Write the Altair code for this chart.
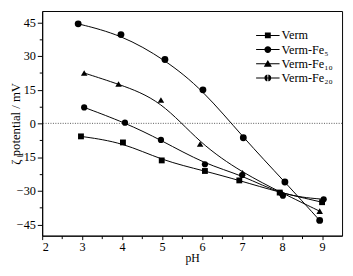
import altair as alt
import pandas as pd

series_names = ["Verm", "Verm-Fe₅", "Verm-Fe₁₀", "Verm-Fe₂₀"]

ph_verm = [2.97, 4.02, 4.99, 6.07, 6.93, 7.94, 9.0]
zeta_verm = [-5.8, -8.5, -16.5, -21.2, -25.4, -30.8, -35.1]

ph_fe5 = [3.05, 4.07, 4.97, 6.07, 7.0, 8.02, 9.04]
zeta_fe5 = [7.1, 0.3, -7.4, -18.2, -23.0, -32.2, -33.8]

ph_fe10 = [3.05, 3.91, 4.97, 5.95, 7.01, 8.0, 8.94]
zeta_fe10 = [22.4, 17.5, 10.4, -9.2, -22.0, -31.0, -39.1]

ph_fe20 = [2.9, 3.97, 5.07, 6.02, 7.03, 8.07, 8.94]
zeta_fe20 = [44.3, 39.5, 28.4, 14.9, -6.4, -26.1, -43.2]

zero_level = [0]

rows = []
for name, xs, ys in [
    (series_names[0], ph_verm, zeta_verm),
    (series_names[1], ph_fe5, zeta_fe5),
    (series_names[2], ph_fe10, zeta_fe10),
    (series_names[3], ph_fe20, zeta_fe20),
]:
    for x, y in zip(xs, ys):
        rows.append({"series": name, "pH": x, "zeta": y})
df = pd.DataFrame(rows)

FONT = "Liberation Serif"

x_ticks = [2, 2.5, 3, 3.5, 4, 4.5, 5, 5.5, 6, 6.5, 7, 7.5, 8, 8.5, 9]
y_ticks = [-45, -37.5, -30, -22.5, -15, -7.5, 0, 7.5, 15, 22.5, 30, 37.5, 45]

x_enc = alt.X(
    "pH:Q",
    scale=alt.Scale(domain=[2, 9.5], nice=False, zero=False),
    axis=alt.Axis(
        title="pH",
        values=x_ticks,
        labelExpr="datum.value % 1 == 0 ? format(datum.value, 'd') : ''",
        labelOverlap=False,
        tickSize={"condition": {"test": "datum.value % 1 != 0", "value": 3}, "value": 4},
        grid=False,
        labelPadding=1,
        titlePadding=0,
        titleFontSize=12,
    ),
)
y_enc = alt.Y(
    "zeta:Q",
    scale=alt.Scale(domain=[-50, 50], nice=False, zero=False),
    axis=alt.Axis(
        title="ζ potential / mV",
        values=y_ticks,
        labelExpr="abs(datum.value % 15) < 0.001 ? format(datum.value, 'd') : ''",
        labelOverlap=False,
        tickSize={"condition": {"test": "abs(datum.value % 15) > 0.001", "value": 3}, "value": 5},
        grid=False,
        labelPadding=2,
        titleX=-27,
        titleBaseline="middle",
        titleFontSize=13,
    ),
)

base = alt.Chart(df)

zero_line = alt.Chart(pd.DataFrame({"zeta": zero_level})).mark_rule(
    color="#555555", strokeDash=[1, 1.5], strokeWidth=1
).encode(y=y_enc)

lines = base.mark_line(interpolate="basis", color="black", strokeWidth=1).encode(
    x=x_enc, y=y_enc, detail="series:N"
)

points = base.mark_point(filled=True, color="black", opacity=1, strokeWidth=0).encode(
    x=x_enc,
    y=y_enc,
    shape=alt.Shape(
        "series:N",
        scale=alt.Scale(domain=series_names, range=["square", "circle", "triangle-up", "circle"]),
        legend=None,
    ),
    size=alt.Size(
        "series:N",
        scale=alt.Scale(domain=series_names, range=[36, 49, 52, 49]),
        legend=None,
    ),
)

bar = "M-1.6,-0.07H1.6V0.07H-1.6Z"
sq = "M-0.4,-0.4H0.4V0.4H-0.4Z"
circ = "M-0.47,0A0.47,0.47 0 1,1 0.47,0A0.47,0.47 0 1,1 -0.47,0Z"
tri = "M0,-0.5L0.55,0.42H-0.55Z"
cross = "M-0.06,-0.47V-0.06H-0.47V0.06H-0.06V0.47H0.06V0.06H0.47V-0.06H0.06V-0.47Z"

legend_layer = base.transform_filter("false").mark_point(
    filled=True, color="black", opacity=1
).encode(
    x=x_enc,
    y=y_enc,
    shape=alt.Shape(
        "series:N",
        scale=alt.Scale(
            domain=series_names,
            range=[bar + sq, bar + circ, bar + tri, bar + circ + cross],
        ),
        legend=alt.Legend(
            title=None,
            orient="none",
            legendX=223.5,
            legendY=17.5,
            symbolSize=225,
            symbolFillColor="black",
            symbolStrokeWidth=0,
            symbolOpacity=1,
            labelOffset=6.5,
            rowPadding=0.5,
            padding=0,
            labelFont=FONT,
            labelFontSize=12.5,
            labelColor="black",
        ),
    ),
)

chart = (
    alt.layer(zero_line, lines, points, legend_layer)
    .resolve_scale(shape="independent", size="independent")
    .properties(
        width=307,
        height=230,
        autosize=alt.AutoSizeParams(type="none"),
        padding={"left": 35, "top": 0, "right": 3, "bottom": 30},
    )
    .configure_view(stroke="black", strokeWidth=1)
    .configure_axis(
        labelFont=FONT,
        titleFont=FONT,
        labelFontSize=12.5,
        titleFontSize=12.5,
        titleFontWeight="normal",
        labelColor="black",
        titleColor="black",
        domainColor="black",
        tickColor="black",
    )
)

chart.save("out.html", embed_options={"renderer": "svg", "actions": False})
